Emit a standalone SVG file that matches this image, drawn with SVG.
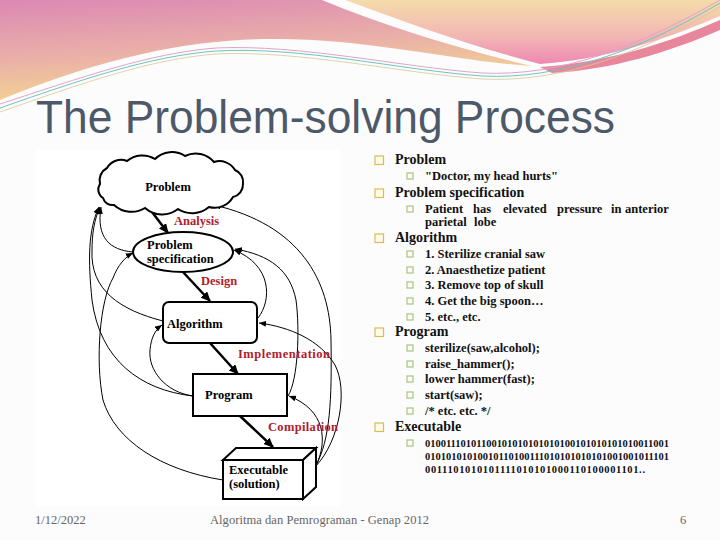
<svg xmlns="http://www.w3.org/2000/svg" width="720" height="540" viewBox="0 0 720 540">
<defs>
<linearGradient id="gl" x1="0" y1="0" x2="0.3" y2="1">
<stop offset="0" stop-color="#dc88b4"/>
<stop offset="0.55" stop-color="#eab0a8"/>
<stop offset="1" stop-color="#f4d690"/>
</linearGradient>
<linearGradient id="gr" x1="0" y1="0" x2="0" y2="1">
<stop offset="0" stop-color="#f4dcaa"/>
<stop offset="0.6" stop-color="#f2b4b4"/>
<stop offset="1" stop-color="#ef88b2"/>
</linearGradient>
<marker id="ah" markerUnits="userSpaceOnUse" markerWidth="10" markerHeight="9" refX="9" refY="4.5" orient="auto">
<path d="M0,0 L10,4.5 L0,9 z" fill="#000"/>
</marker>
<marker id="at" markerUnits="userSpaceOnUse" markerWidth="7" markerHeight="6" refX="7" refY="3" orient="auto">
<path d="M0,0 L7,3 L0,6 z" fill="#000"/>
</marker>
<style>
.node{fill:#fff;stroke:#000;stroke-width:2}
.nt{font-family:"Liberation Serif",serif;font-weight:bold;font-size:12.5px;fill:#000}
.lab{font-family:"Liberation Serif",serif;font-weight:bold;font-size:12.5px;fill:#b01c2c}
.thick{fill:none;stroke:#000;stroke-width:2.5;marker-end:url(#ah)}
.thin{fill:none;stroke:#000;stroke-width:1;marker-end:url(#at)}
.l1{font-family:"Liberation Serif",serif;font-weight:bold;font-size:14px;fill:#111}
.l2{font-family:"Liberation Serif",serif;font-weight:bold;font-size:12.5px;fill:#111}
.bin{font-family:"Liberation Serif",serif;font-weight:bold;font-size:10.5px;fill:#111}
.b1{fill:#fffbe6;stroke:#d8bc58;stroke-width:1.2}
.b2{fill:none;stroke:#a8c47a;stroke-width:1.2}
.foot{font-family:"Liberation Serif",serif;font-size:12.5px;fill:#666}
</style>
</defs>

<rect width="720" height="540" fill="#fcfcfc"/>

<g id="banner">
<path d="M0,0 L322,0 C385,26 455,48 532,66 C470,62 420,50 340,42 C250,34 150,38 0,100 Z" fill="url(#gl)"/>
<path d="M345,0 L720,0 L720,16 C660,42 600,60 540,64 C470,46 405,22 345,0 Z" fill="url(#gr)"/>
<path d="M540,67 C610,62 670,42 720,20 L720,30 C670,52 610,70 552,73 Z" fill="#e8869c"/>
<path d="M0,108 C80,80 150,56 216,51 C300,46 400,70 482,76 C560,80 640,50 720,3" fill="none" stroke="#6cc4c4" stroke-width="1"/>
<path d="M0,104 C80,78 150,53 216,48 C300,44 400,67 482,73 C560,77 640,46 720,0" fill="none" stroke="#e0a4c4" stroke-width="1"/>
<path d="M0,112 C80,84 150,59 216,54 C300,50 400,73 482,79 C560,83 640,54 720,7" fill="none" stroke="#d8c890" stroke-width="0.8"/>
</g>

<text x="36" y="133" font-family="Liberation Sans, sans-serif" font-size="46" fill="#4d5868" textLength="579" lengthAdjust="spacingAndGlyphs">The Problem-solving Process</text>

<rect x="36" y="150" width="304" height="356" fill="#ffffff"/>

<g id="connectors">
<path class="thick" d="M152,212 L168,233"/>
<path class="thick" d="M183,272 L210,301"/>
<path class="thick" d="M210,343 L238,374"/>
<path class="thick" d="M240,416 L273,447"/>
<path class="thin" d="M133,252 C110,250 96,238 101,207"/>
<path class="thin" d="M163,321 C120,310 90,290 92,250 C92,235 94,220 100,207"/>
<path class="thin" d="M193,396 C140,390 100,360 92,300 C88,260 88,230 99,207"/>
<path class="thin" d="M193,396 C165,392 148,370 150,350 C151,338 155,330 162,325"/>
<path class="thin" d="M223,480 C160,470 115,440 103,400 C95,360 100,300 113,278 C118,265 125,257 133,253"/>
<path class="thin" d="M316,465 C330,440 332,400 331,340 C330,280 300,225 214,205"/>
<path class="thin" d="M258,318 C272,300 272,265 234,250"/>
<path class="thin" d="M288,396 C298,380 300,330 296,300 C290,270 270,255 235,249"/>
<path class="thin" d="M316,466 C340,440 348,390 335,365 C320,340 290,327 259,323"/>
<path class="thin" d="M316,466 C328,440 325,410 289,396"/>
</g>

<g id="problem">
<path class="node" d="M103,198 A10,10 0 0 1 100,184 A14,14 0 0 1 107,168 A16,16 0 0 1 127,161 A24,24 0 0 1 155,159 A24,24 0 0 1 185,156 A24,24 0 0 1 214,162 A18,18 0 0 1 235,170 A13,13 0 0 1 243,184 A13,13 0 0 1 233,197 A21,21 0 0 1 209,207 A26,26 0 0 1 178,209 A26,26 0 0 1 145,208 A26,26 0 0 1 114,205 A10,10 0 0 1 103,198 Z"/>
<text class="nt" x="168" y="191" text-anchor="middle" font-size="12">Problem</text>
</g>

<g id="spec">
<ellipse class="node" cx="183" cy="252" rx="50" ry="20" stroke-width="1.6"/>
<text class="nt" x="147" y="249">Problem</text>
<text class="nt" x="147" y="263">specification</text>
</g>

<g id="algorithm">
<rect class="node" x="163" y="302" width="94" height="41" rx="6"/>
<text class="nt" x="167" y="328">Algorithm</text>
</g>

<g id="program">
<rect class="node" x="193" y="374" width="94" height="42" stroke-width="1.6"/>
<text class="nt" x="205" y="399">Program</text>
</g>

<g id="executable">
<path class="node" d="M223,460 L236,448 L316,448 L303,460 Z"/>
<path class="node" d="M303,460 L316,448 L316,487 L303,499 Z"/>
<rect class="node" x="223" y="460" width="80" height="39"/>
<text class="nt" x="229" y="474">Executable</text>
<text class="nt" x="229" y="488">(solution)</text>
</g>

<g id="labels">
<text class="lab" x="174" y="225">Analysis</text>
<text class="lab" x="201" y="285">Design</text>
<text class="lab" x="238" y="358" textLength="92">Implementation</text>
<text class="lab" x="268" y="431" textLength="70">Compilation</text>
</g>

<g id="list">
<rect class="b1" x="375" y="156" width="8.5" height="8.5"/>
<text class="l1" x="395" y="164">Problem</text>
<rect class="b2" x="407" y="173" width="6" height="6"/>
<text class="l2" x="425" y="180">"Doctor, my head hurts"</text>
<rect class="b1" x="375" y="189" width="8.5" height="8.5"/>
<text class="l1" x="395" y="197">Problem specification</text>
<rect class="b2" x="407" y="206" width="6" height="6"/>
<text class="l2" y="213"><tspan x="425">Patient</tspan><tspan x="473">has</tspan><tspan x="503">elevated</tspan><tspan x="557">pressure</tspan><tspan x="611">in</tspan><tspan x="625">anterior</tspan></text>
<text class="l2" y="226"><tspan x="425">parietal</tspan><tspan x="474">lobe</tspan></text>
<rect class="b1" x="375" y="234" width="8.5" height="8.5"/>
<text class="l1" x="395" y="242">Algorithm</text>
<rect class="b2" x="407" y="251" width="6" height="6"/>
<text class="l2" x="425" y="258">1. Sterilize cranial saw</text>
<rect class="b2" x="407" y="267" width="6" height="6"/>
<text class="l2" x="425" y="274">2. Anaesthetize patient</text>
<rect class="b2" x="407" y="282" width="6" height="6"/>
<text class="l2" x="425" y="289">3. Remove top of skull</text>
<rect class="b2" x="407" y="298" width="6" height="6"/>
<text class="l2" x="425" y="305">4. Get the big spoon…</text>
<rect class="b2" x="407" y="314" width="6" height="6"/>
<text class="l2" x="425" y="321">5. etc., etc.</text>
<rect class="b1" x="375" y="328" width="8.5" height="8.5"/>
<text class="l1" x="395" y="336">Program</text>
<rect class="b2" x="407" y="345" width="6" height="6"/>
<text class="l2" x="425" y="352">sterilize(saw,alcohol);</text>
<rect class="b2" x="407" y="361" width="6" height="6"/>
<text class="l2" x="425" y="368">raise_hammer();</text>
<rect class="b2" x="407" y="376" width="6" height="6"/>
<text class="l2" x="425" y="383">lower hammer(fast);</text>
<rect class="b2" x="407" y="392" width="6" height="6"/>
<text class="l2" x="425" y="399">start(saw);</text>
<rect class="b2" x="407" y="408" width="6" height="6"/>
<text class="l2" x="425" y="415">/* etc. etc. */</text>
<rect class="b1" x="375" y="423" width="8.5" height="8.5"/>
<text class="l1" x="395" y="431">Executable</text>
<rect class="b2" x="407" y="440" width="6" height="6"/>
<text class="bin" x="425" y="447" textLength="244">01001110101100101010101010100101010101010011001</text>
<text class="bin" x="425" y="460" textLength="244">01010101010010110100111010101010101001001011101</text>
<text class="bin" x="425" y="473" textLength="220">0011101010101111010101000110100001101..</text>
</g>

<g id="footer">
<text class="foot" x="35" y="524">1/12/2022</text>
<text class="foot" x="210" y="524" textLength="219">Algoritma dan Pemrograman - Genap 2012</text>
<text class="foot" x="680" y="524">6</text>
</g>
</svg>
